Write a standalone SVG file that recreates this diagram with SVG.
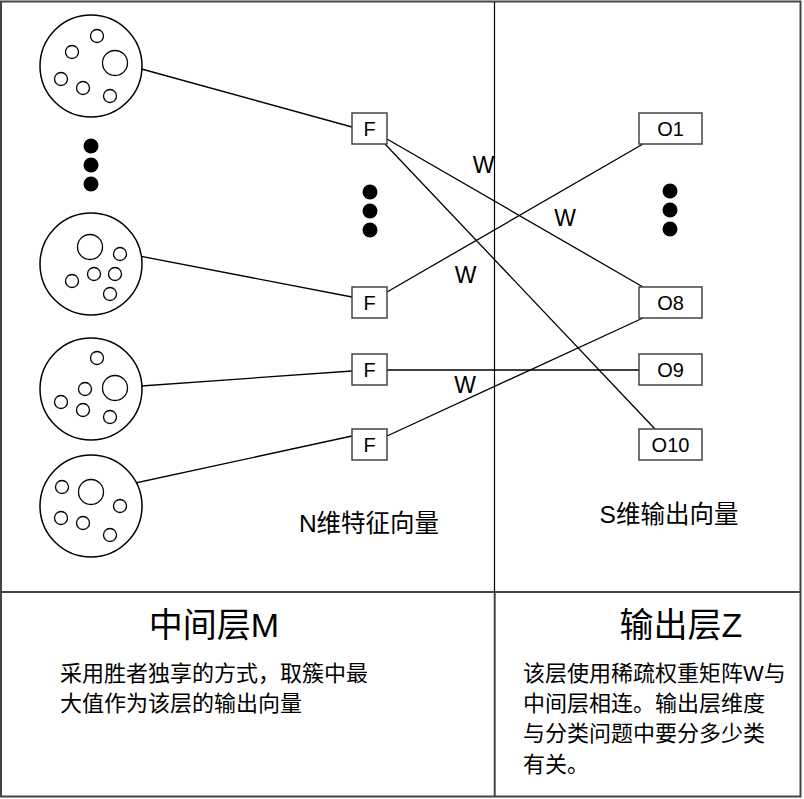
<svg xmlns="http://www.w3.org/2000/svg" width="804" height="799" viewBox="0 0 804 799">
<style>
.frame{fill:none;stroke:#444;stroke-width:2}
.big{fill:#fff;stroke:#000;stroke-width:1.5}
.sm{fill:#fff;stroke:#000;stroke-width:1.3}
.dot{fill:#000}
.box{fill:#fff;stroke:#444;stroke-width:1.5}
.ln{stroke:#000;stroke-width:1.3;fill:none}
text{font-family:"Liberation Sans","Noto Sans CJK SC",sans-serif;fill:#000}
.lbl{font-size:20px;text-anchor:middle}
.w{font-size:23px;text-anchor:middle}
.cap{font-size:24.5px;text-anchor:middle}
.title{font-size:34px;text-anchor:middle}
.body{font-size:22px}
</style>
<rect x="0" y="0" width="804" height="799" fill="#fff"/>
<g id="frame">
<rect class="frame" x="1" y="1.5" width="799.5" height="795"/>
<line class="frame" x1="1" y1="592" x2="800" y2="592"/>
<line x1="494.5" y1="2" x2="494.5" y2="592" stroke="#000" stroke-width="1.2"/>
<line class="frame" x1="494.7" y1="592" x2="494.7" y2="796"/>
</g>
<g id="connectors">
<line class="ln" x1="127" y1="65" x2="352" y2="127"/>
<line class="ln" x1="103" y1="249" x2="352" y2="297"/>
<line class="ln" x1="127" y1="387" x2="352" y2="371"/>
<line class="ln" x1="103" y1="490" x2="352" y2="436"/>
<line class="ln" x1="387" y1="139" x2="643" y2="287"/>
<line class="ln" x1="385" y1="144" x2="655" y2="429"/>
<line class="ln" x1="387" y1="292" x2="643" y2="144"/>
<line class="ln" x1="387" y1="370" x2="639" y2="370"/>
<line class="ln" x1="387" y1="436" x2="643" y2="318"/>
</g>
<g id="cluster1">
<circle class="big" cx="91" cy="66" r="51"/>
<circle class="sm" cx="97" cy="36" r="6.5"/>
<circle class="sm" cx="72" cy="52" r="6.5"/>
<circle class="sm" cx="115" cy="63" r="12.5"/>
<circle class="sm" cx="61" cy="79" r="6.5"/>
<circle class="sm" cx="83" cy="88" r="6.5"/>
<circle class="sm" cx="110" cy="96" r="6.5"/>
</g>
<g id="dots-left">
<circle class="dot" cx="91" cy="146" r="7.5"/>
<circle class="dot" cx="91" cy="165" r="7.5"/>
<circle class="dot" cx="91" cy="184" r="7.5"/>
</g>
<g id="cluster2">
<circle class="big" cx="91" cy="264" r="51"/>
<circle class="sm" cx="90" cy="247" r="12.5"/>
<circle class="sm" cx="120" cy="254" r="6.5"/>
<circle class="sm" cx="72" cy="281" r="6.5"/>
<circle class="sm" cx="94" cy="274" r="6.5"/>
<circle class="sm" cx="115" cy="274" r="6.5"/>
<circle class="sm" cx="110" cy="294" r="6.5"/>
</g>
<g id="cluster3">
<circle class="big" cx="91" cy="389" r="51"/>
<circle class="sm" cx="97" cy="358" r="6.5"/>
<circle class="sm" cx="115" cy="388" r="12.5"/>
<circle class="sm" cx="85" cy="389" r="6.5"/>
<circle class="sm" cx="61" cy="402" r="6.5"/>
<circle class="sm" cx="83" cy="410" r="6.5"/>
<circle class="sm" cx="110" cy="417" r="6.5"/>
</g>
<g id="cluster4">
<circle class="big" cx="91" cy="506" r="51"/>
<circle class="sm" cx="62" cy="487" r="6.5"/>
<circle class="sm" cx="91" cy="492" r="12.5"/>
<circle class="sm" cx="120" cy="506" r="6.5"/>
<circle class="sm" cx="61" cy="518" r="6.5"/>
<circle class="sm" cx="83" cy="523" r="6.5"/>
<circle class="sm" cx="110" cy="535" r="6.5"/>
</g>
<g id="F1"><rect class="box" x="352" y="113" width="35" height="31"/><text class="lbl" x="369.5" y="136">F</text></g>
<g id="F2"><rect class="box" x="352" y="287" width="35" height="31"/><text class="lbl" x="369.5" y="310">F</text></g>
<g id="F3"><rect class="box" x="352" y="354" width="35" height="31"/><text class="lbl" x="369.5" y="377">F</text></g>
<g id="F4"><rect class="box" x="352" y="429" width="35" height="31"/><text class="lbl" x="369.5" y="452">F</text></g>
<g id="dots-mid">
<circle class="dot" cx="370" cy="192" r="7.5"/>
<circle class="dot" cx="370" cy="211" r="7.5"/>
<circle class="dot" cx="370" cy="230" r="7.5"/>
</g>
<g id="O1"><rect class="box" x="639" y="113" width="63" height="31"/><text class="lbl" x="670.5" y="136">O1</text></g>
<g id="O8"><rect class="box" x="639" y="287" width="63" height="31"/><text class="lbl" x="670.5" y="310">O8</text></g>
<g id="O9"><rect class="box" x="639" y="354" width="63" height="31"/><text class="lbl" x="670.5" y="377">O9</text></g>
<g id="O10"><rect class="box" x="639" y="429" width="63" height="31"/><text class="lbl" x="670.5" y="452">O10</text></g>
<g id="dots-right">
<circle class="dot" cx="670" cy="191" r="7.5"/>
<circle class="dot" cx="670" cy="210" r="7.5"/>
<circle class="dot" cx="670" cy="229" r="7.5"/>
</g>
<g id="weights">
<text class="w" x="483.5" y="173">W</text>
<text class="w" x="565" y="226">W</text>
<text class="w" x="465.5" y="283">W</text>
<text class="w" x="465" y="393">W</text>
</g>
<g id="captions">
<text class="cap" x="369" y="532">N维特征向量</text>
<text class="cap" x="669" y="523">S维输出向量</text>
</g>
<g id="middle-layer">
<text class="title" x="214" y="637">中间层M</text>
<text class="body" x="60" y="681">采用胜者独享的方式，取簇中最</text>
<text class="body" x="60" y="711">大值作为该层的输出向量</text>
</g>
<g id="output-layer">
<text class="title" x="681" y="637">输出层Z</text>
<text class="body" x="523" y="681">该层使用稀疏权重矩阵W与</text>
<text class="body" x="523" y="711">中间层相连。输出层维度</text>
<text class="body" x="523" y="741">与分类问题中要分多少类</text>
<text class="body" x="523" y="772">有关。</text>
</g>
</svg>
